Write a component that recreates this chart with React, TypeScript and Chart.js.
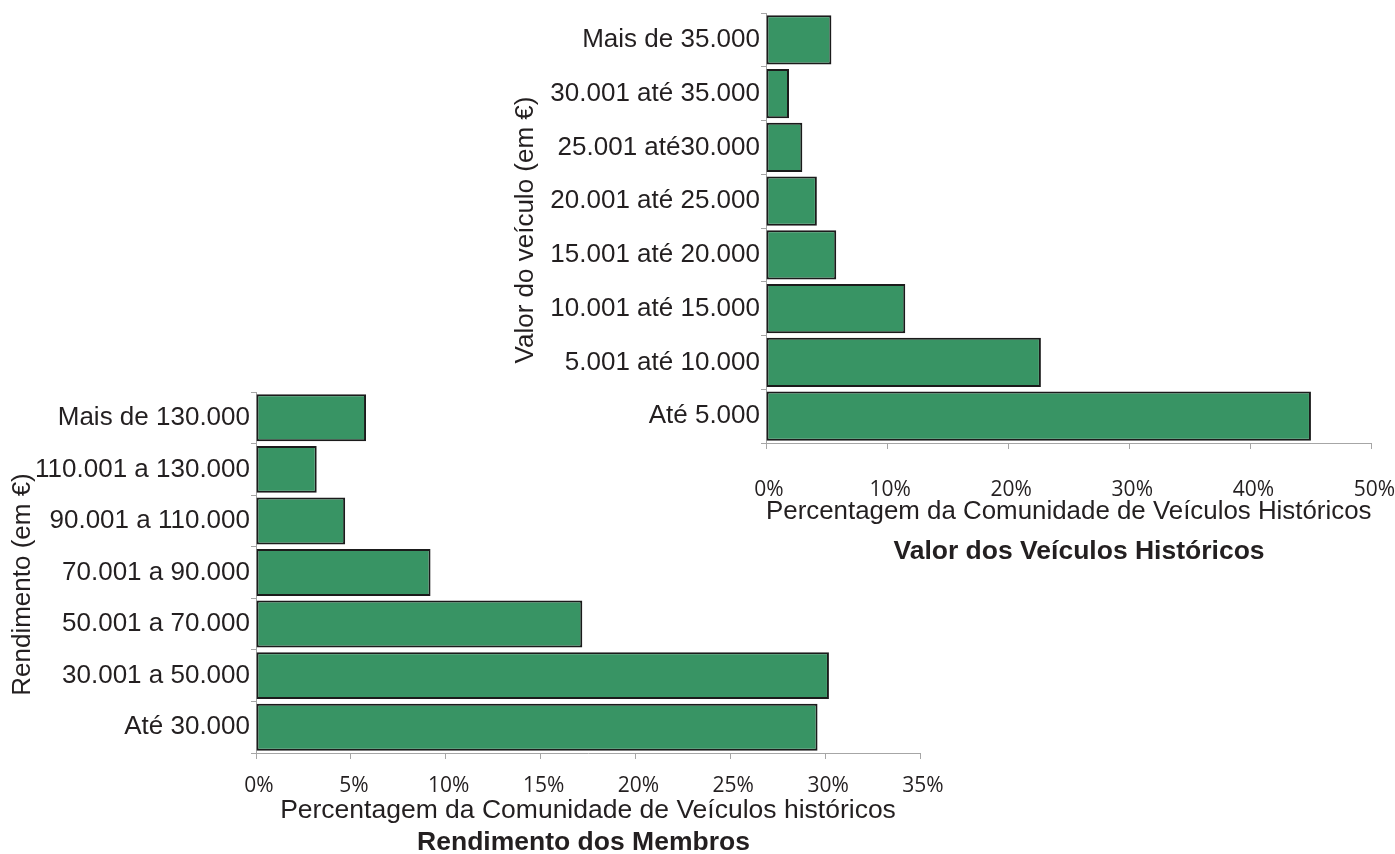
import React, { useEffect, useRef } from "react";
import { Chart, registerables } from "chart.js";

Chart.register(...registerables);

// Vehicle value distribution (top-right chart)
const valueCategories = [
  "Mais de 35.000",
  "30.001 até 35.000",
  "25.001 até30.000",
  "20.001 até 25.000",
  "15.001 até 20.000",
  "10.001 até 15.000",
  "5.001 até 10.000",
  "Até 5.000",
];
const valueShares = [5.4, 1.9, 3.0, 4.2, 5.8, 11.5, 22.7, 45.0];
const valueAxisMax = 50;
const valueAxisStep = 10;

// Member income distribution (bottom-left chart)
const incomeCategories = [
  "Mais de 130.000",
  "110.001 a 130.000",
  "90.001 a 110.000",
  "70.001 a 90.000",
  "50.001 a 70.000",
  "30.001 a 50.000",
  "Até 30.000",
];
const incomeShares = [5.8, 3.2, 4.7, 9.2, 17.2, 30.2, 29.6];
const incomeAxisMax = 35;
const incomeAxisStep = 5;

const SANS = "'Liberation Sans', Arial, Helvetica, sans-serif";
const TICK_FONT = "'Open Sans', 'Noto Sans', sans-serif";
const TEXT = "#231f20";
const AXIS = "#a6a6a6";
const BAR = "#389464";
const BAR_EDGE = "#1b1b1b";

type Layout = {
  left: number;
  top: number;
  width: number;
  height: number;
  padTop: number;
  padRight: number;
  padBottom: number;
  yWidth: number;
  yTitleX: number;
  yTitleShift: number;
  xHeight: number;
  xTickPad: number;
  xTitlePad: number;
  xTitleAlign: "start" | "center" | "end";
  titleX: number;
  titleY: number;
  barPct: number;
};

// Draws the rotated value-axis caption and the chart caption below the x axis
const captionPlugin = {
  id: "captions",
  afterDraw(chart: any, _args: any, opts: any) {
    const { ctx, chartArea } = chart;
    ctx.save();
    ctx.fillStyle = TEXT;
    ctx.textAlign = "center";
    ctx.textBaseline = "middle";

    ctx.save();
    ctx.translate(opts.yTitleX, (chartArea.top + chartArea.bottom) / 2 + opts.yTitleShift);
    ctx.rotate(-Math.PI / 2);
    ctx.font = `26px ${SANS}`;
    ctx.fillText(opts.yTitle, 0, 0);
    ctx.restore();

    ctx.font = `bold 26.5px ${SANS}`;
    ctx.fillText(opts.title, opts.titleX, opts.titleY);
    ctx.restore();
  },
};

type Props = {
  labels: string[];
  values: number[];
  max: number;
  step: number;
  yTitle: string;
  xTitle: string;
  title: string;
  layout: Layout;
};

function HBarChart({ labels, values, max, step, yTitle, xTitle, title, layout }: Props) {
  const ref = useRef<HTMLCanvasElement | null>(null);

  useEffect(() => {
    if (!ref.current) return;
    const chart = new Chart(ref.current, {
      type: "bar",
      data: {
        labels,
        datasets: [
          {
            data: values,
            backgroundColor: BAR,
            borderColor: BAR_EDGE,
            borderWidth: 2,
            borderSkipped: false,
            barPercentage: layout.barPct,
            categoryPercentage: 1,
          },
        ],
      },
      plugins: [captionPlugin],
      options: {
        indexAxis: "y",
        responsive: false,
        animation: false,
        layout: {
          padding: {
            top: layout.padTop,
            right: layout.padRight,
            left: 0,
            bottom: layout.padBottom,
          },
        },
        plugins: {
          legend: { display: false },
          tooltip: { enabled: false },
          title: { display: false },
          captions: {
            yTitle,
            yTitleX: layout.yTitleX,
            yTitleShift: layout.yTitleShift,
            title,
            titleX: layout.titleX,
            titleY: layout.titleY,
          },
        },
        scales: {
          x: {
            type: "linear",
            min: 0,
            max,
            ticks: {
              stepSize: step,
              color: TEXT,
              font: { family: TICK_FONT, size: 21 },
              padding: layout.xTickPad,
              labelOffset: 3,
              callback: (v: any) => `${v}%`,
            },
            grid: { drawOnChartArea: false, tickLength: 6, color: AXIS },
            border: { color: AXIS, width: 1 },
            title: {
              display: true,
              text: xTitle,
              color: TEXT,
              align: layout.xTitleAlign,
              font: { family: SANS, size: 26.5 },
              padding: { top: 0, bottom: layout.xTitlePad },
            },
            afterFit: (s: any) => {
              s.height = layout.xHeight;
              s.paddingLeft = 0;
              s.paddingRight = 0;
            },
          },
          y: {
            ticks: {
              color: TEXT,
              font: { family: SANS, size: 26 },
              padding: 1,
            },
            grid: { drawOnChartArea: false, tickLength: 5, color: AXIS, offset: true },
            border: { color: AXIS, width: 1 },
            title: { display: false },
            afterFit: (s: any) => {
              s.width = layout.yWidth;
              s.paddingTop = 0;
              s.paddingBottom = 0;
            },
          },
        },
      } as any,
    });
    return () => chart.destroy();
  }, [labels, values, max, step, yTitle, xTitle, title, layout]);

  return (
    <canvas
      ref={ref}
      width={layout.width}
      height={layout.height}
      style={{
        position: "absolute",
        left: layout.left,
        top: layout.top,
        width: layout.width,
        height: layout.height,
      }}
    />
  );
}

const valueLayout: Layout = {
  left: 505,
  top: 0,
  width: 890,
  height: 580,
  padTop: 13,
  padRight: 23.5,
  padBottom: 43.2,
  yWidth: 261,
  yTitleX: 21,
  yTitleShift: 2,
  xHeight: 93.8,
  xTickPad: 28,
  xTitlePad: 9,
  xTitleAlign: "start",
  titleX: 574,
  titleY: 552,
  barPct: 0.92,
};

const incomeLayout: Layout = {
  left: 0,
  top: 380,
  width: 945,
  height: 474,
  padTop: 12,
  padRight: 25,
  padBottom: 22.1,
  yWidth: 256,
  yTitleX: 22.5,
  yTitleShift: 12,
  xHeight: 78.9,
  xTickPad: 14,
  xTitlePad: 5,
  xTitleAlign: "center",
  titleX: 583.5,
  titleY: 463,
  barPct: 0.91,
};

export default function App() {
  return (
    <div
      style={{
        position: "absolute",
        left: 0,
        top: 0,
        width: 1395,
        height: 854,
        background: "#ffffff",
        overflow: "hidden",
      }}
    >
      <HBarChart
        labels={valueCategories}
        values={valueShares}
        max={valueAxisMax}
        step={valueAxisStep}
        yTitle="Valor do veículo (em €)"
        xTitle="Percentagem da Comunidade de Veículos Históricos"
        title="Valor dos Veículos Históricos"
        layout={valueLayout}
      />
      <HBarChart
        labels={incomeCategories}
        values={incomeShares}
        max={incomeAxisMax}
        step={incomeAxisStep}
        yTitle="Rendimento (em €)"
        xTitle="Percentagem da Comunidade de Veículos históricos"
        title="Rendimento dos Membros"
        layout={incomeLayout}
      />
    </div>
  );
}
